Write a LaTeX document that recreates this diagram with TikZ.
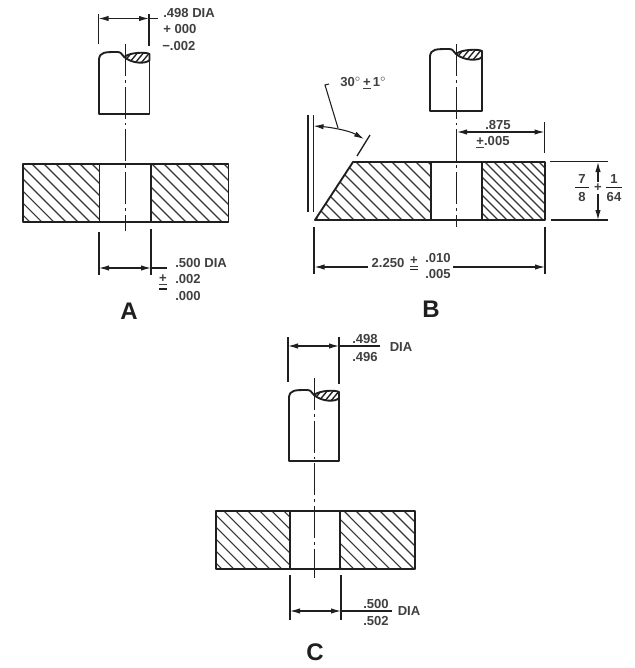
\documentclass[tikz,border=0pt]{standalone}
\usepackage{fontspec}
\setmainfont{Liberation Sans}
\usetikzlibrary{arrows.meta}
\definecolor{ink}{gray}{0.12}
\tikzset{
  dim/.style={line width=0.8pt,draw=ink},
  dimarrow/.style={dim,{Latex[length=7.5pt,width=4pt]}-{Latex[length=7.5pt,width=4pt]}},
  dimhead/.style={dim,-{Latex[length=7.5pt,width=4pt]}},
  outline/.style={line width=1.4pt,draw=ink,line join=round},
  hatchline/.style={line width=0.8pt,draw=ink!90},
  centerl/.style={line width=0.75pt,draw=ink,dash pattern=on 24pt off 3pt on 2pt off 3pt},
  lbl/.style={font=\fontsize{9.8pt}{10pt}\selectfont\bfseries,text=ink!85,inner sep=0pt,anchor=west},
  lblc/.style={font=\fontsize{9.8pt}{10pt}\selectfont\bfseries,text=ink!85,inner sep=0pt},
  big/.style={font=\fontsize{18pt}{19pt}\selectfont\bfseries,text=ink,inner sep=0pt}
}
% #1 clip path, #2 spacing, #3 top y of the plate
\newcommand{\hatchregion}[3]{%
  \begin{scope}
    \clip #1;
    \foreach \k in {0,...,80}{
      \pgfmathsetmacro{\xa}{-100+\k*#2}
      \pgfmathsetmacro{\xb}{\xa+80}
      \pgfmathsetmacro{\yb}{#3+80}
      \draw[hatchline] (\xa,#3) -- (\xb,\yb);
    }
  \end{scope}
}
% #1 left x, #2 right x, #3 top y
\newcommand{\pintop}[3]{%
  \pgfmathsetmacro{\mx}{(#1+#2)/2}
  \pgfmathsetmacro{\ya}{#3+8}\pgfmathsetmacro{\yb}{#3+1}\pgfmathsetmacro{\yc}{#3+6}
  \pgfmathsetmacro{\yd}{#3+3}\pgfmathsetmacro{\ye}{#3+9}\pgfmathsetmacro{\yf}{#3+13}
  \pgfmathsetmacro{\xa}{#1+1}\pgfmathsetmacro{\xb}{#1+6}\pgfmathsetmacro{\xc}{\mx-7}
  \pgfmathsetmacro{\xd}{\mx+6}\pgfmathsetmacro{\xe}{#2-3}\pgfmathsetmacro{\xg}{\mx+8}
  \pgfmathsetmacro{\xh}{\mx-3}
  \draw[outline] (#1,\ya) .. controls (\xa,\yb) and (\xb,\yb) .. (\xc,\yb)
     .. controls (\xh,\yb) and (\xh,\yd) .. (\mx,\yc);
  \draw[outline,fill=white] (\mx,\yc) .. controls (\xd,\yb) and (\xe,\yb) .. (#2,\yd) -- (#2,\ye)
     .. controls (\xe,\yf) and (\xg,\yf) .. (\mx,\yc) -- cycle;
  \begin{scope}
    \clip (\mx,\yc) .. controls (\xd,\yb) and (\xe,\yb) .. (#2,\yd) -- (#2,\ye)
     .. controls (\xe,\yf) and (\xg,\yf) .. (\mx,\yc) -- cycle;
    \foreach \k in {0,...,6}{
      \pgfmathsetmacro{\ha}{\mx+\k*6-8}
      \pgfmathsetmacro{\hb}{\ha+10}
      \draw[line width=1pt,draw=ink] (\ha,\yf) -- (\hb,\yb);
    }
  \end{scope}
}
\begin{document}
\begin{tikzpicture}[x=0.75pt,y=-0.75pt]
\useasboundingbox[fill=white] (0,0) rectangle (635,668);

% ---------- A ----------
\pintop{99}{149.5}{51}
\draw[outline] (99,59) -- (99,114) -- (149.5,114) -- (149.5,60);
\hatchregion{(23,164) rectangle (99.5,222)}{12}{164}
\hatchregion{(151,164) rectangle (228.5,222)}{12}{164}
\draw[outline] (23,164) rectangle (228.5,222);
\draw[outline] (99.5,164) -- (99.5,222);
\draw[outline] (151,164) -- (151,222);
\draw[centerl] (125,44) -- (125,231);
\draw[dim] (98.5,14) -- (98.5,44);
\draw[dim] (149,14) -- (149,46);
\draw[dimarrow] (98.5,18.5) -- (149,18.5);
\draw[dim] (149,18.5) -- (158,18.5);
\node[lbl] (a1) at (163,12.5) {.498 DIA};
\node[lbl] (a2) at (163,29) {+ 000};
\node[lbl] (a3) at (162,46) {−.002};
\draw[dim] (99,232) -- (99,275);
\draw[dim] (151,229) -- (151,275);
\draw[dimarrow] (99,268) -- (151,268);
\draw[dim] (151,268) -- (167,268);
\node[lbl] (a4) at (175,262.5) {.500 DIA};
\node[lblc] (a5) at (163,280) {\underline{+}};
\node[lbl] (a6) at (175,279) {.002};
\draw[line width=1.2pt,draw=ink] (159,289) -- (167,289);
\node[lbl] (a7) at (175,296) {.000};
\node[big] (A) at (129,311) {A};

% ---------- B ----------
\pintop{430}{482}{48}
\draw[outline] (430,56) -- (430,111) -- (482,111) -- (482,57);
\hatchregion{(315,220) -- (353,162) -- (431,162) -- (431,220) -- cycle}{12}{162}
\hatchregion{(482,162) rectangle (545,220)}{9}{162}
\draw[outline] (315,220) -- (353,162) -- (545,162) -- (545,220) -- cycle;
\draw[outline] (431,162) -- (431,220);
\draw[outline] (482,162) -- (482,220);
\draw[centerl] (456,44) -- (456,227);
% angle
\draw[line width=1.1pt,draw=ink] (308,115) -- (308,212);
\draw[line width=1.1pt,draw=ink] (313.5,115) -- (313.5,212);
\draw[line width=1pt,draw=ink] (370,135) -- (357,156);
\draw[dimarrow] (313.5,126) .. controls (328,127) and (348,130) .. (364,139);
\draw[dim] (329,84) -- (325,85) -- (338,128);
\node[lbl] (b1) at (340,83) {30$^{\circ}$\,\underline{+}\,1$^{\circ}$};
% .875
\draw[dimarrow] (457,132) -- (544.5,132);
\draw[dim] (544.5,122) -- (544.5,153);
\node[lblc] (b2) at (498,125) {.875};
\node[lblc] (b3) at (493,142) {\underline{+}.005};
% 7/8
\draw[dim] (550,161.5) -- (608,161.5);
\draw[dim] (551,220) -- (608,220);
\coordinate (bt) at (598,162);
\coordinate (bb) at (598,220);
\coordinate (bm1) at (598,182);
\coordinate (bm2) at (598,194);
\draw[dimhead] (bm1) -- (bt);
\draw[dimhead] (bm2) -- (bb);
\node[lblc] (b4) at (582,179.5) {7};
\draw[dim] (575,187.5) -- (589,187.5);
\node[lblc] (b5) at (582,197) {8};
\node[lblc] (b6) at (598,187.5) {+};
\node[lblc] (b7) at (614,179.5) {1};
\draw[dim] (606,187.5) -- (622,187.5);
\node[lblc] (b8) at (614,197) {64};
% 2.250
\draw[dim] (314,227) -- (314,274);
\draw[dim] (545,227) -- (545,274);
\coordinate (cl) at (314.5,267);
\coordinate (cr) at (545,267);
\draw[dimhead] (368,267) -- (cl);
\draw[dimhead] (453,267) -- (cr);
\node[lblc] (b9) at (388,263) {2.250};
\node[lblc] (b10) at (414,262) {\underline{+}};
\draw[line width=1.2pt,draw=ink] (410,269.5) -- (418,269.5);
\node[lblc] (b11) at (438,257.5) {.010};
\node[lblc] (b12) at (438,274) {.005};
\node[big] (B) at (431,309) {B};

% ---------- C ----------
\pintop{289}{339}{389}
\draw[outline] (289,397) -- (289,461) -- (339,461) -- (339,398);
\hatchregion{(216,511) rectangle (290,569)}{12}{511}
\hatchregion{(340,511) rectangle (415,569)}{12}{511}
\draw[outline] (216,511) rectangle (415,569);
\draw[outline] (290,511) -- (290,569);
\draw[outline] (340,511) -- (340,569);
\draw[centerl] (314,378) -- (314,578);
\draw[dim] (288,337) -- (288,382);
\draw[dim] (339,337) -- (339,384);
\draw[dimarrow] (288,346) -- (339,346);
\draw[dim] (339,346) -- (380,346);
\node[lblc] (c1) at (365,339) {.498};
\node[lblc] (c2) at (365,356.5) {.496};
\node[lblc] (c3) at (401,347) {DIA};
\draw[dim] (290,575) -- (290,620);
\draw[dim] (341,575) -- (341,620);
\draw[dimarrow] (290,611) -- (341,611);
\draw[dim] (341,611) -- (392,611);
\node[lblc] (c4) at (376,604) {.500};
\node[lblc] (c5) at (376,621) {.502};
\node[lblc] (c6) at (409,611) {DIA};
\node[big] (C) at (315,652) {C};
\end{tikzpicture}
\end{document}
